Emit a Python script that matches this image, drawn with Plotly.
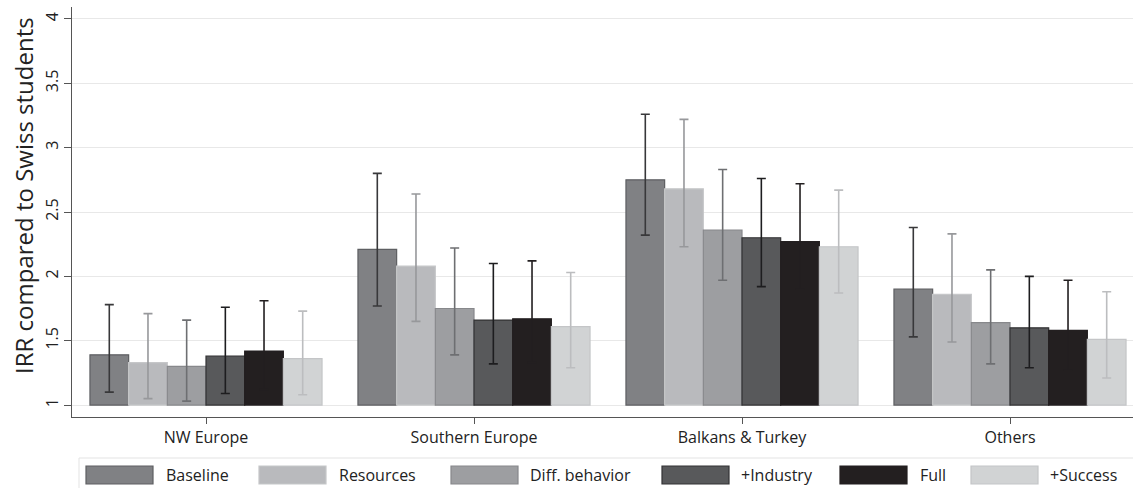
import plotly.graph_objects as go

# Regions of origin and model specifications
regions = ["NW Europe", "Southern Europe", "Balkans & Turkey", "Others"]
models = ["Baseline", "Resources", "Diff. behavior", "+Industry", "Full", "+Success"]

# Incidence rate ratios (point estimates) per model, ordered as `regions`
irr_baseline = [1.39, 2.21, 2.75, 1.90]
irr_resources = [1.33, 2.08, 2.68, 1.86]
irr_diff = [1.30, 1.75, 2.36, 1.64]
irr_industry = [1.38, 1.66, 2.30, 1.60]
irr_full = [1.42, 1.67, 2.27, 1.58]
irr_success = [1.36, 1.61, 2.23, 1.51]

# Upper confidence limits
ci_hi_baseline = [1.78, 2.80, 3.26, 2.38]
ci_hi_resources = [1.71, 2.64, 3.22, 2.33]
ci_hi_diff = [1.66, 2.22, 2.83, 2.05]
ci_hi_industry = [1.76, 2.10, 2.76, 2.00]
ci_hi_full = [1.81, 2.12, 2.72, 1.97]
ci_hi_success = [1.73, 2.03, 2.67, 1.88]

# Lower confidence limits
ci_lo_baseline = [1.10, 1.77, 2.32, 1.53]
ci_lo_resources = [1.05, 1.65, 2.23, 1.49]
ci_lo_diff = [1.03, 1.39, 1.97, 1.32]
ci_lo_industry = [1.09, 1.32, 1.92, 1.29]
ci_lo_full = [1.12, 1.33, 1.90, 1.27]
ci_lo_success = [1.08, 1.29, 1.87, 1.21]

y_ticks = [1, 1.5, 2, 2.5, 3, 3.5, 4]
y_tick_labels = ["1", "1.5", "2", "2.5", "3", "3.5", "4"]
y_title = "IRR compared to Swiss students"

estimates = [irr_baseline, irr_resources, irr_diff, irr_industry, irr_full, irr_success]
upper = [ci_hi_baseline, ci_hi_resources, ci_hi_diff, ci_hi_industry, ci_hi_full, ci_hi_success]
lower = [ci_lo_baseline, ci_lo_resources, ci_lo_diff, ci_lo_industry, ci_lo_full, ci_lo_success]

# Styling per model: fill, outline, error-bar colour
fills = ["#808184", "#b9babd", "#9d9ea1", "#58595b", "#231f20", "#d1d3d4"]
outlines = ["#5e5f62", "#c6c7c9", "#87888b", "#333335", "#231f20", "#c4c5c7"]
whiskers = ["#38383a", "#97989b", "#6e6f72", "#1d1d1f", "#231f20", "#bcbdbf"]

FONT = "Open Sans"
BASE = 1.0  # IRR reference level (Swiss students)

fig = go.Figure()
for name, est, hi, lo, fc, lc, wc in zip(models, estimates, upper, lower, fills, outlines, whiskers):
    fig.add_trace(go.Bar(
        name=name,
        x=regions,
        y=[v - BASE for v in est],
        base=BASE,
        marker=dict(color=fc, line=dict(color=lc, width=1.2)),
        error_y=dict(
            type="data",
            symmetric=False,
            array=[h - v for h, v in zip(hi, est)],
            arrayminus=[v - l for v, l in zip(est, lo)],
            color=wc,
            thickness=1.6,
            width=4.5,
        ),
        showlegend=False,
    ))

# Figure geometry (pixels) used to place the custom legend and axis title
W, H = 1133, 488
ML, MR, MT, MB = 72, 0, 7, 71
PW, PH = W - ML - MR, H - MT - MB


def px_x(p):
    return (p - ML) / PW


def px_y(p):
    return (H - MB - p) / PH


shapes = []
annotations = []

# Legend frame
shapes.append(dict(type="rect", xref="paper", yref="paper",
                   x0=px_x(79), x1=px_x(1140), y0=px_y(500), y1=px_y(458),
                   line=dict(color="#e3e3e3", width=1), fillcolor="rgba(0,0,0,0)", layer="below"))

swatch_left = [86, 259, 451, 662, 840, 971]
text_left = [164, 337, 528, 739, 918, 1048]
for name, fc, lc, sx, tx in zip(models, fills, outlines, swatch_left, text_left):
    shapes.append(dict(type="rect", xref="paper", yref="paper",
                       x0=px_x(sx), x1=px_x(sx + 67), y0=px_y(484), y1=px_y(466),
                       fillcolor=fc, line=dict(color=lc, width=1.2)))
    annotations.append(dict(text=name, xref="paper", yref="paper",
                            x=px_x(tx), y=px_y(475), xanchor="left", yanchor="middle",
                            showarrow=False, font=dict(family=FONT, size=16, color="#222")))

# Vertical axis title
annotations.append(dict(text=y_title, xref="paper", yref="paper",
                        x=px_x(23), y=px_y(196), xanchor="center", yanchor="middle",
                        textangle=-90, showarrow=False,
                        font=dict(family=FONT, size=24, color="#222")))

fig.update_layout(
    width=W, height=H,
    margin=dict(l=ML, r=MR, t=MT, b=MB),
    paper_bgcolor="white",
    plot_bgcolor="white",
    barmode="group",
    bargap=0.134,
    bargroupgap=0,
    font=dict(family=FONT, size=16, color="#222"),
    shapes=shapes,
    annotations=annotations,
    xaxis=dict(
        range=[-0.5, -0.5 + PW / 268],
        showline=True, linecolor="#555", linewidth=1.2,
        ticks="outside", ticklen=6, tickcolor="#555", tickwidth=1,
        showgrid=False, zeroline=False,
        tickfont=dict(family=FONT, size=16, color="#222"),
    ),
    yaxis=dict(
        range=[0.907, 4.093],
        tickmode="array", tickvals=y_ticks, ticktext=y_tick_labels,
        tickangle=-90,
        showline=True, linecolor="#555", linewidth=1.2,
        ticks="outside", ticklen=7, tickcolor="#555", tickwidth=1,
        showgrid=True, gridcolor="#e8e8e8", gridwidth=1.3,
        zeroline=False,
        tickfont=dict(family=FONT, size=16, color="#222"),
    ),
)

fig.write_html("out.html")
